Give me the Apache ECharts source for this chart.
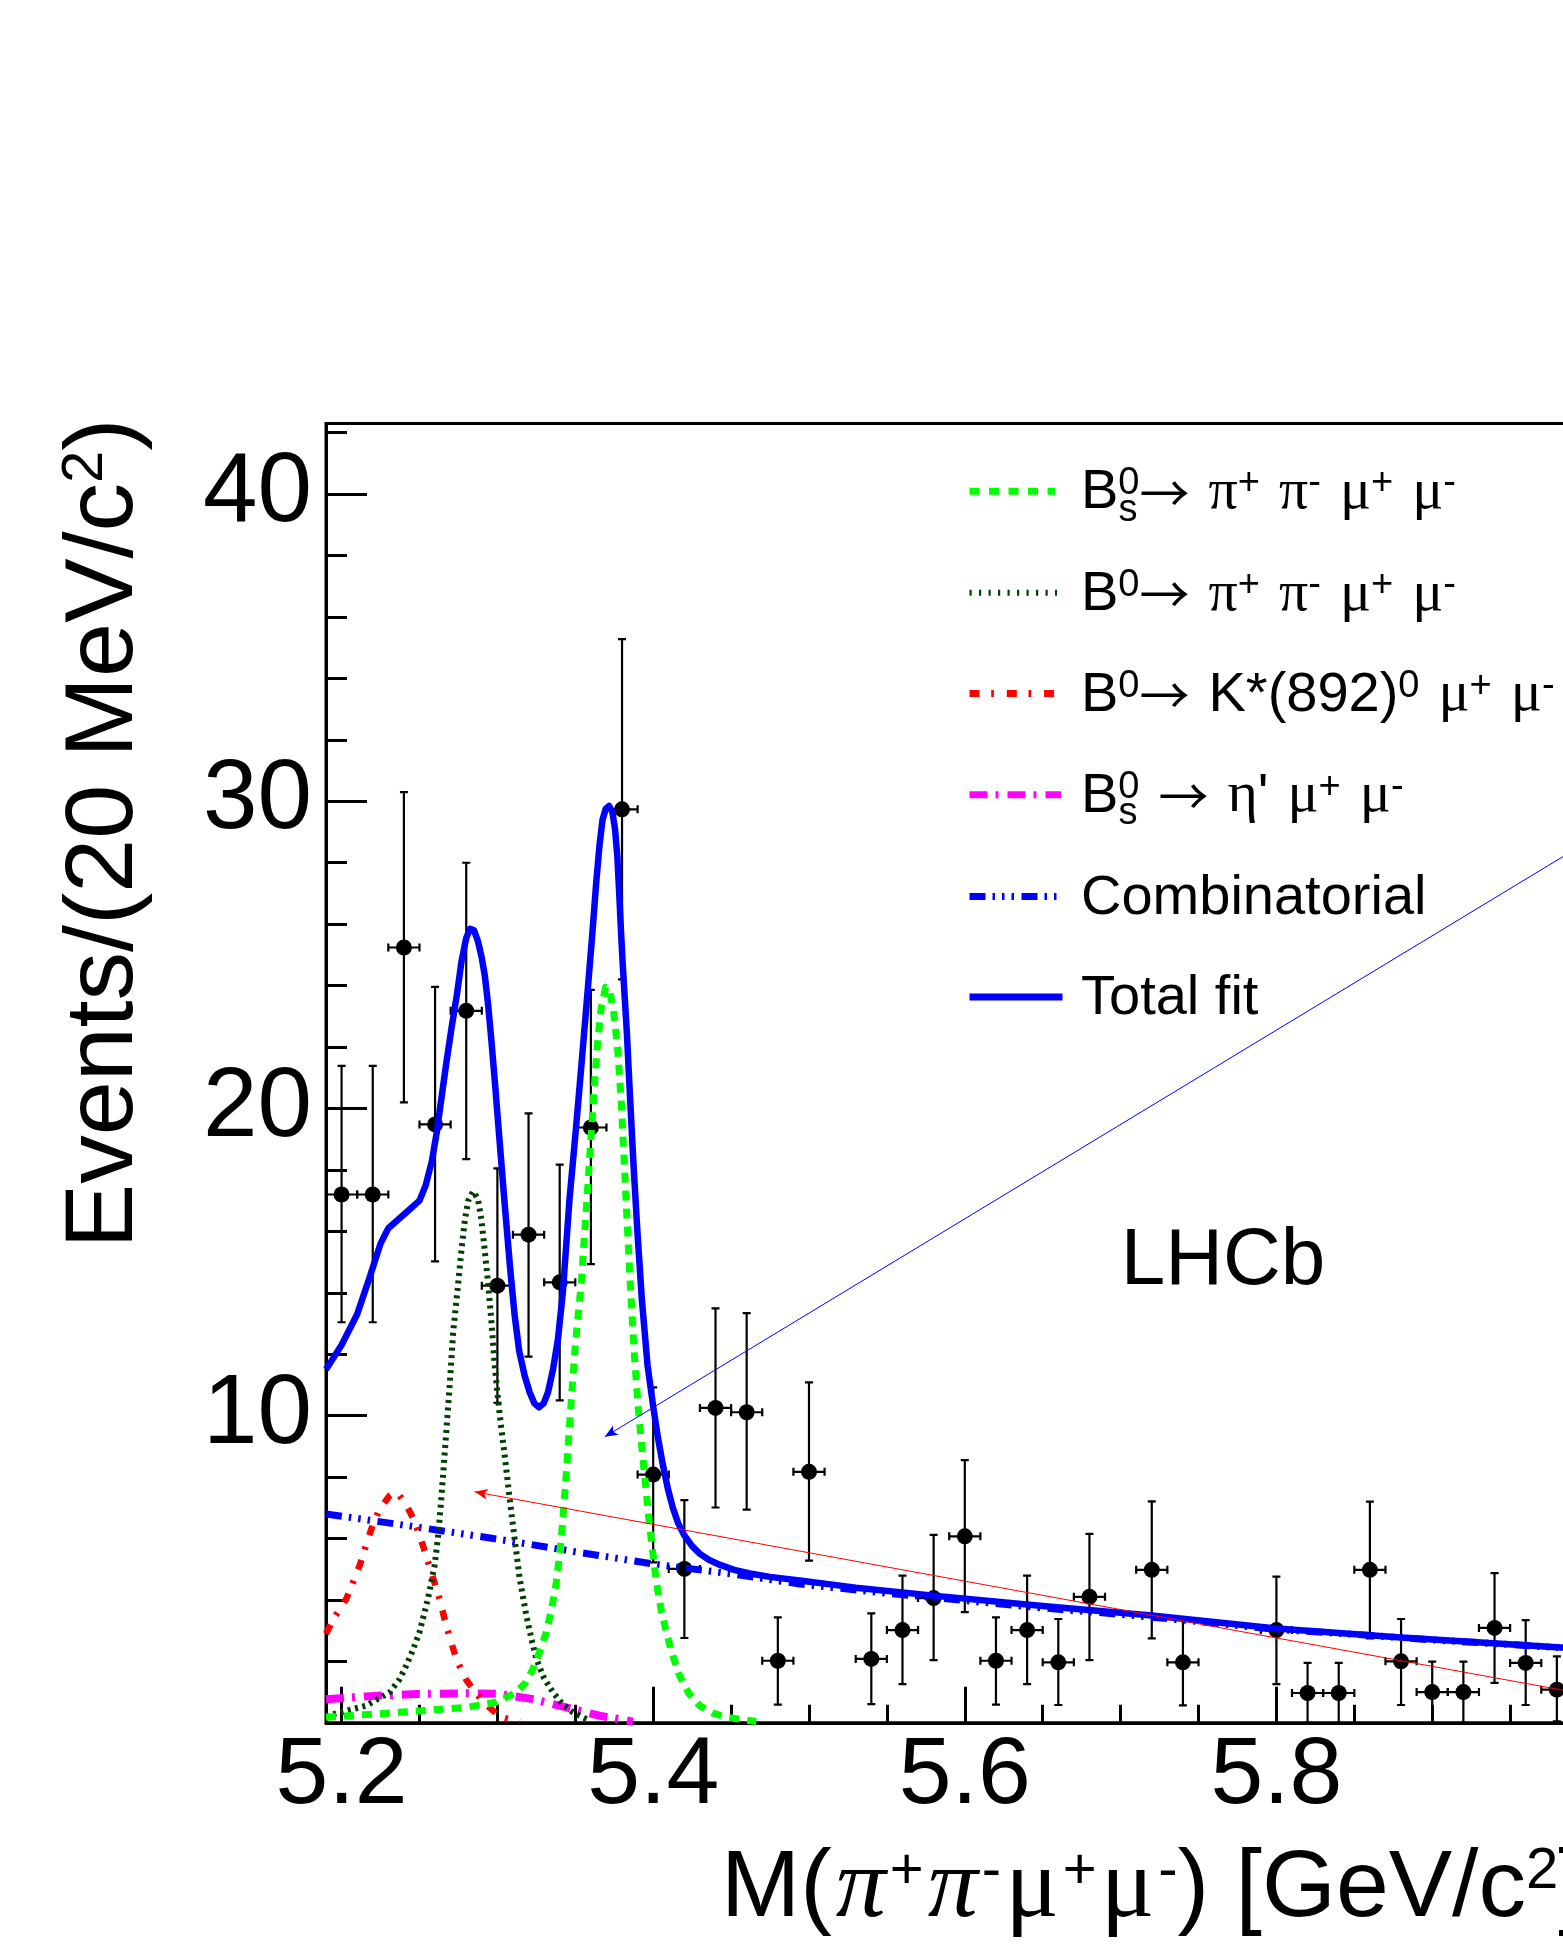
<!DOCTYPE html>
<html>
<head>
<meta charset="utf-8">
<script src="https://cdn.jsdelivr.net/npm/echarts@6/dist/echarts.min.js"></script>
<style>
html,body{margin:0;padding:0;overflow:hidden;background:#fff;}
#chart{width:1650px;height:1944px;}
</style>
</head>
<body>
<div id="chart"></div>
<script>
// ---------------- DATA ----------------
const massBins    = [5.20,5.22,5.24,5.26,5.28,5.30,5.32,5.34,5.36,5.38,5.40,5.42,5.44,5.46,5.48,5.50,
                     5.54,5.56,5.58,5.60,5.62,5.64,5.66,5.68,5.72,5.74,5.80,5.82,5.84,5.86,5.88,5.90,5.92,5.94,5.96,5.98];
const eventCounts = [17.2,17.2,25.24,19.48,23.18,14.23,15.89,14.34,19.38,29.74,8.08,5.01,10.25,10.11,2.02,8.17,
                     2.08,3.02,4.06,6.07,2.02,3.02,1.97,4.10,4.98,1.97,3.02,0.97,0.97,4.98,2.00,1.00,1.00,3.09,1.95,1.08];
const errLower    = [13.04,13.04,20.2,15.02,18.35,10.42,11.92,10.5,14.93,24.2,5.22,2.76,7.01,6.94,0.59,5.28,
                     0.61,1.26,2.04,3.6,0.59,1.26,0.58,2.04,2.75,0.57,1.26,0.0,0.0,2.75,0.58,0.0,0.0,1.3,0.58,0.05];
const errUpper    = [21.39,21.39,30.3,23.96,28.0,18.05,19.84,18.17,23.86,35.28,10.92,7.25,13.49,13.34,3.43,11.08,
                     3.56,4.79,6.12,8.55,3.43,4.79,3.38,6.15,7.21,3.38,4.76,1.95,1.95,7.2,3.38,1.99,1.99,4.87,3.34,2.16];
const BIN_HALF_WIDTH = 0.01;

const totalFit = [[5.19,11.5],[5.20,12.3],[5.21,13.3],[5.218,14.5],[5.225,15.6],[5.23,16.1],[5.24,16.55],
  [5.25,17.0],[5.254,17.5],[5.258,18.3],[5.261,19.2],[5.264,20.3],[5.267,21.4],[5.2705,22.6],[5.274,23.7],
  [5.277,24.8],[5.28,25.55],[5.2825,25.85],[5.285,25.8],[5.2875,25.45],[5.29,24.9],[5.292,24.3],[5.294,23.4],
  [5.296,22.3],[5.2985,20.8],[5.301,19.2],[5.3045,17.0],[5.308,14.9],[5.311,13.3],[5.314,12.1],[5.3175,11.3],
  [5.3207,10.76],[5.3237,10.4],[5.3267,10.27],[5.3297,10.4],[5.3325,10.76],[5.3357,11.5],[5.3389,12.5],[5.342,14.0],
  [5.3463,17.05],[5.3502,19.22],[5.3539,21.39],[5.3575,23.56],[5.361,25.73],[5.3635,27.4],[5.3656,28.6],
  [5.3675,29.4],[5.3695,29.75],[5.3717,29.85],[5.3738,29.65],[5.3755,29.1],[5.377,28.2],[5.3782,27.0],
  [5.3795,25.6],[5.3805,24.64],[5.3831,22.47],[5.3852,20.31],[5.3874,18.14],[5.3899,15.97],[5.3927,13.8],
  [5.3964,11.63],[5.40,10.3],[5.403,9.3],[5.406,8.45],[5.4095,7.6],[5.4126,7.0],[5.416,6.5],[5.42,6.1],
  [5.425,5.75],[5.43,5.5],[5.436,5.3],[5.443,5.14],[5.452,4.98],[5.462,4.86],[5.475,4.75],[5.494,4.63],
  [5.53,4.4],[5.58,4.14],[5.65,3.8],[5.72,3.49],[5.80,3.07],[5.88,2.78],[5.98,2.46],[6.01,2.38]];
const combinatorial = [[5.19,6.8],[5.25,6.36],[5.30,5.98],[5.35,5.57],[5.40,5.17],[5.45,4.85],[5.494,4.52],[5.55,4.22],
  [5.60,3.98],[5.65,3.74],[5.70,3.53],[5.75,3.3],[5.80,3.04],[5.85,2.88],[5.90,2.7],[5.95,2.55],[5.98,2.45],[6.01,2.38]];
const bsPiPiMuMu = [[5.19,0.18],[5.2372,0.34],[5.28,0.5],[5.2993,0.67],[5.3121,0.99],[5.318,1.3],[5.3228,1.75],
  [5.327,2.3],[5.3314,2.95],[5.3348,3.7],[5.3378,4.57],[5.34,5.5],[5.342,6.6],[5.3445,8.3],[5.347,10.2],[5.35,12.3],
  [5.3539,14.34],[5.356,15.97],[5.3582,17.59],[5.3603,19.22],[5.3624,20.85],[5.3646,22.3],[5.3667,23.3],
  [5.3695,23.95],[5.372,23.85],[5.3745,23.2],[5.3772,21.93],[5.3794,20.31],[5.3815,18.14],[5.3836,15.97],
  [5.3858,13.8],[5.388,11.9],[5.3905,10.2],[5.3934,8.6],[5.3977,6.4],[5.402,4.6],[5.405,3.7],[5.4084,2.95],
  [5.4125,2.2],[5.417,1.53],[5.423,0.95],[5.4298,0.56],[5.438,0.32],[5.447,0.18],[5.4662,0.04]];
const bdPiPiMuMu = [[5.19,0.22],[5.2158,0.56],[5.2308,0.99],[5.237,1.4],[5.2415,1.86],[5.246,2.4],[5.25,2.95],
  [5.2554,4.03],[5.2597,5.12],[5.262,6.1],[5.264,7.29],[5.2672,9.46],[5.2694,11.0],[5.2716,12.7],[5.2749,14.34],
  [5.277,15.42],[5.2792,16.4],[5.2813,17.0],[5.2845,17.3],[5.2875,17.05],[5.2897,16.4],[5.2918,15.42],[5.294,14.34],
  [5.2961,13.1],[5.2982,11.7],[5.3004,10.54],[5.3025,9.6],[5.3047,8.7],[5.3079,7.29],[5.3111,5.98],[5.3143,4.7],
  [5.3186,3.49],[5.322,2.7],[5.325,2.08],[5.33,1.45],[5.3357,0.99],[5.342,0.6],[5.3485,0.34],[5.3592,0.07]];
const bdKstarMuMu = [[5.19,2.9],[5.195,3.4],[5.203,4.03],[5.2116,5.12],[5.2191,6.31],[5.2244,6.96],[5.2308,7.39],
  [5.234,7.5],[5.2372,7.39],[5.2415,7.1],[5.247,6.55],[5.2523,5.76],[5.2576,4.9],[5.2629,4.03],[5.2672,3.16],
  [5.2736,2.08],[5.28,1.4],[5.2864,0.95],[5.2928,0.6],[5.3014,0.2],[5.3143,0.02]];
const bsEtapMuMu = [[5.19,0.77],[5.2158,0.86],[5.2479,0.94],[5.28,0.96],[5.3014,0.94],[5.3228,0.77],[5.3442,0.5],
  [5.3656,0.23],[5.387,0.04]];

const blueArrow = [[6.01,29.0],[5.3689,9.31]];
const redArrow  = [[6.01,0.82],[5.2854,7.52]];

const xTickLabels = ['5.2','5.4','5.6','5.8','6'];
const yTickLabels = ['10','20','30','40'];

// ---------------- STYLE ----------------
const FONT = '"Liberation Sans", Arial, Helvetica, sans-serif';
const GREEK = '"Liberation Serif", "DejaVu Serif", serif';
const ARROWF = '"Noto Sans CJK JP", "Noto Sans CJK SC", "DejaVu Sans", sans-serif';

const chart = echarts.init(document.getElementById('chart'), null, {renderer: 'canvas'});

function errStyle(){ return {stroke:'#000', lineWidth:2.2}; }

const pointData = massBins.map((m, i) => [m, eventCounts[i], errLower[i], errUpper[i]]);

function curve(name, data, color, width, type, z) {
  return {
    name: name, type: 'line', data: data, showSymbol: false, symbol: 'none',
    smooth: false, silent: true, z: z,
    lineStyle: {color: color, width: width, type: type, cap: 'butt', join: 'round'}
  };
}

// legend rich styles
const LR = {
  b:  {fontSize:56, lineHeight:56, fontFamily:FONT, color:'#000'},
  g:  {fontSize:58, lineHeight:56, fontFamily:GREEK, color:'#000'},
  a:  {fontSize:50, lineHeight:56, fontFamily:ARROWF, color:'#000'},
  w:  {fontSize:56, lineHeight:56, width:19, fontFamily:FONT},
  sp: {fontSize:38, lineHeight:14, verticalAlign:'top', fontFamily:FONT, color:'#000'}
};
const legendX = 1081;
const legendRows = [
  {y:491.3, color:'#00ff00', width:7, dash:[10,9.5], x2:1055,
   text:'{b|B}{sp|0}{a|→}{w| }{g|π}{sp|+}{w| }{g|π}{sp|-}{w| }{g|μ}{sp|+}{w| }{g|μ}{sp|-}', sub:true},
  {y:592.8, color:'#003f00', width:6, dash:[2.2,7.3], x2:1057,
   text:'{b|B}{sp|0}{a|→}{w| }{g|π}{sp|+}{w| }{g|π}{sp|-}{w| }{g|μ}{sp|+}{w| }{g|μ}{sp|-}', sub:false},
  {y:693.6, color:'#ff0000', width:7, dash:[10,11.7,2.7,12.9], x2:1055,
   text:'{b|B}{sp|0}{a|→}{w| }{b|K*(892)}{sp|0}{w| }{g|μ}{sp|+}{w| }{g|μ}{sp|-}', sub:false},
  {y:794.7, color:'#ff00ff', width:7, dash:[18,8,3,9], x2:1061,
   text:'{b|B}{sp|0}{w| }{a|→}{w| }{g|η}{b|\'}{w| }{g|μ}{sp|+}{w| }{g|μ}{sp|-}', sub:true},
  {y:896.6, color:'#0000ff', width:7, dash:[16,7,2.5,7,2.5,7,2.5,7.5], x2:1060,
   text:'{b|Combinatorial}', sub:false},
  {y:997.0, color:'#0000ff', width:7, dash:null, x2:1062.5,
   text:'{b|Total fit}', sub:false}
];
const graphics = [];
legendRows.forEach(r => {
  graphics.push({type:'line', silent:true, z:10,
    shape:{x1:969.5, y1:r.y, x2:r.x2, y2:r.y},
    style:{stroke:r.color, lineWidth:r.width, lineDash:r.dash || null, lineCap:'butt'}});
  graphics.push({type:'text', silent:true, z:10, x:legendX, y:r.y + 1.5,
    style:{text:r.text, rich:LR, align:'left', verticalAlign:'middle', fontFamily:FONT, fontSize:56}});
  if (r.sub) {
    graphics.push({type:'text', silent:true, z:10, x:legendX + 37.4, y:r.y + 1.5 + 17.5,
      style:{text:'s', fontFamily:FONT, fontSize:38, fill:'#000', align:'left', verticalAlign:'middle'}});
  }
});
// LHCb label
graphics.push({type:'text', silent:true, z:10, x:1120.7, y:1262.3,
  style:{text:'LHCb', fontFamily:FONT, fontSize:80, fill:'#000', align:'left', verticalAlign:'middle'}});
// X axis title
graphics.push({type:'text', silent:true, z:10, x:721, y:1890,
  style:{text:'{b|M(}{gi|π}{sp|+}{gi|π}{sp|-}{g|μ}{sp|+}{g|μ}{sp|-}{b|) [GeV/c}{sp|2}{b|]}',
    align:'left', verticalAlign:'middle', fontFamily:FONT, fontSize:95,
    rich:{
      b:{fontSize:95, lineHeight:95, fontFamily:FONT, color:'#000'},
      g:{fontSize:100, lineHeight:95, fontFamily:GREEK, color:'#000', padding:[0,4,0,4]},
      gi:{fontSize:100, lineHeight:95, fontFamily:GREEK, fontStyle:'italic', color:'#000', padding:[0,4,0,4]},
      sp:{fontSize:58, lineHeight:34, verticalAlign:'top', fontFamily:FONT, color:'#000'}
    }}});
// Y axis title (rotated)
graphics.push({type:'text', silent:true, z:10, x:105.4, y:1248.5, rotation:Math.PI/2,
  style:{text:'{b|Events/(20 MeV/c}{sp|2}{b|)}', align:'left', verticalAlign:'middle',
    fontFamily:FONT, fontSize:97,
    rich:{
      b:{fontSize:97, lineHeight:97, fontFamily:FONT, color:'#000'},
      sp:{fontSize:58, lineHeight:36, verticalAlign:'top', fontFamily:FONT, color:'#000'}
    }}});

const option = {
  animation: false,
  backgroundColor: '#ffffff',
  legend: {show: false},
  grid: {left: 326, top: 423.5, right: 46.4, bottom: 221.2, show: true,
         borderColor: '#000', borderWidth: 3, backgroundColor: 'transparent', containLabel: false},
  xAxis: {
    type: 'value', min: 5.19, max: 6.01, splitNumber: 4,
    axisLine: {show: true, onZero: false, lineStyle: {color: '#000', width: 3}},
    axisTick: {show: true, inside: true, length: 36, lineStyle: {color: '#000', width: 3}},
    minorTick: {show: true, splitNumber: 4, length: 18, lineStyle: {color: '#000', width: 3}},
    splitLine: {show: false}, minorSplitLine: {show: false},
    axisLabel: {show: true, margin: 6, fontSize: 95, lineHeight: 95, fontFamily: FONT, color: '#000',
      showMinLabel: false, showMaxLabel: false, hideOverlap: false,
      formatter: v => { const s = String(+v.toFixed(3)); return xTickLabels.indexOf(s) >= 0 ? s : ''; }}
  },
  yAxis: {
    type: 'value', min: 0, max: 42.3, interval: 10,
    axisLine: {show: true, onZero: false, lineStyle: {color: '#000', width: 3}},
    axisTick: {show: true, inside: true, length: 41, lineStyle: {color: '#000', width: 3}},
    minorTick: {show: true, splitNumber: 5, length: 21, lineStyle: {color: '#000', width: 3}},
    splitLine: {show: false}, minorSplitLine: {show: false},
    axisLabel: {show: true, margin: 14, fontSize: 98, lineHeight: 98, fontFamily: FONT, color: '#000',
      showMinLabel: false, showMaxLabel: false, hideOverlap: false,
      formatter: v => { const s = String(+v.toFixed(3)); return yTickLabels.indexOf(s) >= 0 ? s : ''; }}
  },
  series: [
    {
      name: 'Data', type: 'custom', data: pointData, encode: {x: 0, y: 1}, z: 2, clip: true, silent: true,
      renderItem: function (params, api) {
        const x = api.value(0), y = api.value(1), lo = api.value(2), hi = api.value(3);
        const c = api.coord([x, y]), cl = api.coord([x, lo]), ch = api.coord([x, hi]);
        const l = api.coord([x - BIN_HALF_WIDTH, y]), r = api.coord([x + BIN_HALF_WIDTH, y]);
        const cap = 4;
        return {type: 'group', children: [
          {type: 'line', shape: {x1: c[0], y1: ch[1], x2: c[0], y2: cl[1]}, style: errStyle()},
          {type: 'line', shape: {x1: c[0] - cap, y1: ch[1], x2: c[0] + cap, y2: ch[1]}, style: errStyle()},
          {type: 'line', shape: {x1: c[0] - cap, y1: cl[1], x2: c[0] + cap, y2: cl[1]}, style: errStyle()},
          {type: 'line', shape: {x1: l[0], y1: c[1], x2: r[0], y2: c[1]}, style: errStyle()},
          {type: 'line', shape: {x1: l[0], y1: c[1] - cap, x2: l[0], y2: c[1] + cap}, style: errStyle()},
          {type: 'line', shape: {x1: r[0], y1: c[1] - cap, x2: r[0], y2: c[1] + cap}, style: errStyle()},
          {type: 'circle', shape: {cx: c[0], cy: c[1], r: 8}, style: {fill: '#000'}}
        ]};
      }
    },
    curve('Combinatorial', combinatorial, '#0000ff', 7, [16,7,2.5,7,2.5,7,2.5,7.5], 3),
    curve('Bs eta prime', bsEtapMuMu, '#ff00ff', 8, [18,8,3,9], 3),
    curve('B0 Kstar', bdKstarMuMu, '#ff0000', 6.5, [10,11,3,12], 3),
    curve('B0 pipi', bdPiPiMuMu, '#003f00', 6, [3,4.5], 3),
    curve('Bs pipi', bsPiPiMuMu, '#00ff00', 7, [10,8], 3),
    Object.assign(curve('Total fit', totalFit, '#0000ff', 6.5, 'solid', 4), {
      markLine: {
        silent: true, symbol: ['none', 'arrow'], symbolSize: [8, 13], animation: false,
        label: {show: false},
        data: [
          [{coord: blueArrow[0], lineStyle: {color: '#0000ff', width: 1, type: 'solid'}, itemStyle: {color: '#0000ff'}},
           {coord: blueArrow[1]}],
          [{coord: redArrow[0], lineStyle: {color: '#ff0000', width: 1, type: 'solid'}, itemStyle: {color: '#ff0000'}},
           {coord: redArrow[1]}]
        ]
      }
    })
  ],
  graphic: graphics
};
chart.setOption(option);
</script>
</body>
</html>
